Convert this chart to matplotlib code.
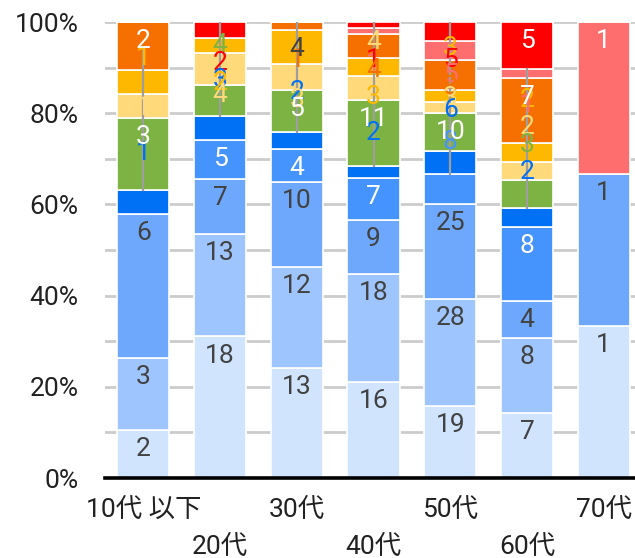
import matplotlib
matplotlib.use("Agg")
import matplotlib.pyplot as plt
import numpy as np

plt.rcParams['font.family'] = ['Roboto', 'Noto Sans CJK JP', 'DejaVu Sans']

ages = ['10代 以下', '20代', '30代', '40代', '50代', '60代', '70代']

# counts per age group, stacked bottom -> top
pale_blue   = [2, 18, 13, 16, 19, 7, 1]
light_blue  = [3, 13, 12, 18, 28, 8, 0]
mid_blue    = [6, 7, 10, 9, 25, 4, 1]
blue        = [0, 5, 4, 7, 8, 8, 0]
deep_blue   = [1, 3, 2, 2, 6, 2, 0]
green       = [3, 4, 5, 11, 10, 3, 0]
pale_yellow = [1, 4, 3, 4, 3, 2, 0]
yellow      = [1, 2, 4, 3, 3, 2, 0]
orange      = [2, 0, 1, 4, 8, 7, 0]
salmon      = [0, 0, 0, 1, 5, 1, 1]
red         = [0, 2, 0, 1, 5, 5, 0]

series = [pale_blue, light_blue, mid_blue, blue, deep_blue, green,
          pale_yellow, yellow, orange, salmon, red]
colors = ['#d0e4fe', '#9fc5fe', '#6ea8fc', '#4593fc', '#0070f5', '#7cb342',
          '#ffd97a', '#ffb800', '#f57000', '#ff6e6e', '#ff0000']
DARK = '#424242'
text_colors = [DARK, DARK, DARK, 'white', 'white', 'white',
               DARK, DARK, 'white', 'white', 'white']

# labels of thin segments pushed onto the leader line: (series index, y in %)
squeezed = [
    [(7, 92.1), (6, 81.1), (4, 71.3)],
    [(5, 95.0), (10, 91.0), (4, 87.3), (7, 86.6), (6, 84.0)],
    [(8, 91.7), (4, 84.6), (6, 82.9)],
    [(6, 95.6), (9, 90.8), (10, 91.7), (8, 89.5), (7, 83.6), (4, 75.7)],
    [(7, 94.3), (10, 91.7), (9, 88.4), (8, 85.7), (6, 83.3), (4, 80.7), (3, 73.7)],
    [(7, 82.9), (9, 81.8), (6, 77.0), (5, 73.0), (4, 67.1)],
    [],
]
leader_tops = [94, 100, 100, 100, 100, 89.8, None]

counts = np.array(series, dtype=float)
totals = counts.sum(axis=0)
pct = counts / totals * 100
tops = np.cumsum(pct, axis=0)
x = np.arange(len(ages))

fig = plt.figure(figsize=(6.35, 5.58), dpi=100)
ax = fig.add_axes([105 / 635, 80 / 558, 537 / 635, 456 / 558])

bottom = np.zeros(len(ages))
for k in range(len(series)):
    ax.bar(x, pct[k], 0.68, bottom=bottom, color=colors[k],
           edgecolor='white', linewidth=1.2, zorder=2)
    bottom += pct[k]

# inside labels sit just under the top of their segment
for i in range(len(ages)):
    moved = {k for k, _ in squeezed[i]}
    for k in range(len(series)):
        if counts[k, i] == 0 or k in moved:
            continue
        ax.annotate(f'{int(counts[k, i])}', xy=(x[i], tops[k, i]),
                    xytext=(0, -13.7), textcoords='offset points',
                    ha='center', va='center', fontsize=19,
                    color=text_colors[k], zorder=5)
    if leader_tops[i] is not None:
        low = min(k for k, _ in squeezed[i])
        ax.plot([x[i], x[i]], [tops[low, i], leader_tops[i]],
                color='#9e9e9e', lw=1.6, zorder=3)
    for k, yy in squeezed[i]:
        ax.text(x[i], yy, f'{int(counts[k, i])}', ha='center', va='center',
                fontsize=19, color=colors[k], zorder=4)

ax.set_xlim(-0.5, 6.5)
ax.set_ylim(0, 100)
ax.set_yticks(range(0, 101, 20))
ax.set_yticks(range(10, 100, 20), minor=True)
ax.set_yticklabels([f'{v}%' for v in range(0, 101, 20)], fontsize=19,
                   color='#212121')
ax.yaxis.grid(True, which='both', color='#cccccc', lw=2)
ax.set_axisbelow(True)
ax.tick_params(axis='y', which='both', length=0, pad=19)
ax.set_xticks([])
for side in ['top', 'right', 'left']:
    ax.spines[side].set_visible(False)
ax.spines['bottom'].set_color('black')
ax.spines['bottom'].set_linewidth(2.6)
ax.spines['bottom'].set_zorder(6)

# category names alternate between two rows
for i, name in enumerate(ages):
    drop = 23 if i % 2 == 0 else 49.5
    ax.annotate(name, xy=(x[i], 0), xycoords=('data', 'axes fraction'),
                xytext=(0, -drop), textcoords='offset points',
                ha='center', va='center', fontsize=19, color='#212121',
                annotation_clip=False)

fig.savefig('out.png', dpi=100)
